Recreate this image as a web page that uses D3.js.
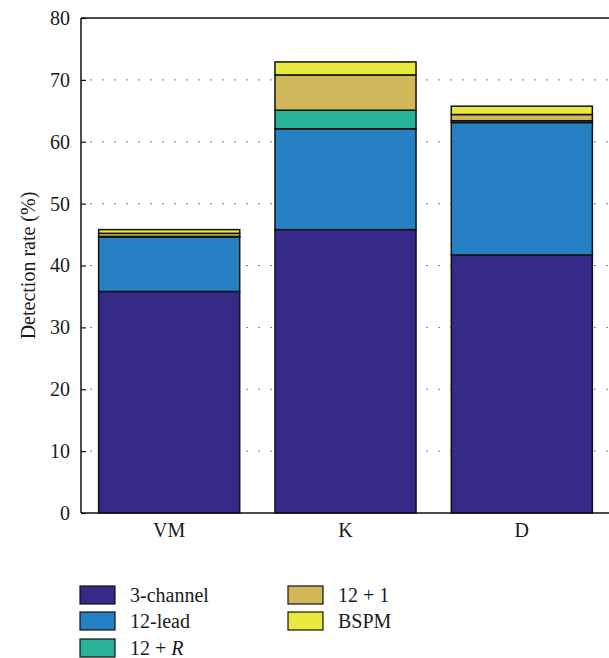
<!DOCTYPE html>
<html>
<head>
<meta charset="utf-8">
<script src="https://cdn.jsdelivr.net/npm/d3@7"></script>
<style>
  html, body { margin: 0; padding: 0; background: #fff; }
  svg { display: block; }
  text { font-family: "Liberation Serif", "DejaVu Serif", serif; fill: #1a1a1a; }
</style>
</head>
<body>
<svg id="chart" width="609" height="658"></svg>
<script>
// Detection method groups along the x axis
const categories = ["VM", "K", "D"];

// Stacked series (layer heights, % detection rate)
const seriesNames = ["3-channel", "12-lead", "12 + R", "12 + 1", "BSPM"];
const threeChannel = [35.8, 45.8, 41.7];
const twelveLead   = [8.8, 16.3, 21.4];
const twelvePlusR  = [0.1, 3.0, 0.3];
const twelvePlus1  = [0.5, 5.7, 1.0];
const bspm         = [0.6, 2.1, 1.35];

const yTicks = [0, 10, 20, 30, 40, 50, 60, 70, 80];
const colors = ["#352a87", "#2680c4", "#27b29a", "#d3b85b", "#e8e83d"];
const fontSize = 20;

const layerValues = [threeChannel, twelveLead, twelvePlusR, twelvePlus1, bspm];
const rows = categories.map((c, i) => {
  const r = { category: c };
  seriesNames.forEach((s, k) => { r[s] = layerValues[k][i]; });
  return r;
});

const svg = d3.select("#chart");
const margin = { left: 81, top: 18, bottom: 513, right: 610 };

const x = d3.scaleBand()
  .domain(categories)
  .range([margin.left, margin.right])
  .paddingInner(0.2)
  .paddingOuter(0.1);

const y = d3.scaleLinear().domain([0, 80]).range([margin.bottom, margin.top]);

// dotted grid lines
svg.append("g")
  .selectAll("line")
  .data(yTicks.filter(t => t > 0 && t < 80))
  .join("line")
  .attr("x1", margin.left + 9).attr("x2", margin.right)
  .attr("y1", d => y(d)).attr("y2", d => y(d))
  .attr("stroke", "#808080")
  .attr("stroke-width", 1)
  .attr("stroke-dasharray", "2,10");

// stacked bars
const stack = d3.stack().keys(seriesNames)(rows);
svg.append("g")
  .selectAll("g")
  .data(stack)
  .join("g")
  .attr("fill", (d, i) => colors[i])
  .selectAll("rect")
  .data(d => d)
  .join("rect")
  .attr("x", d => x(d.data.category))
  .attr("width", x.bandwidth())
  .attr("y", d => y(d[1]))
  .attr("height", d => y(d[0]) - y(d[1]))
  .attr("stroke", "#111")
  .attr("stroke-width", 1.5);

// frame (left, top, bottom)
const frame = svg.append("g").attr("stroke", "#111").attr("stroke-width", 1.5).attr("fill", "none");
frame.append("line").attr("x1", margin.left).attr("x2", margin.left).attr("y1", margin.top).attr("y2", margin.bottom);
frame.append("line").attr("x1", margin.left).attr("x2", 609).attr("y1", margin.top).attr("y2", margin.top);
frame.append("line").attr("x1", margin.left).attr("x2", 609).attr("y1", margin.bottom).attr("y2", margin.bottom);

// y axis ticks (inward) and labels
const yAxis = d3.axisLeft(y).tickValues(yTicks).tickSize(-5).tickPadding(11).tickFormat(d3.format("d"));
const gy = svg.append("g").attr("transform", `translate(${margin.left},0)`).call(yAxis);
gy.select(".domain").remove();
gy.selectAll(".tick line").attr("stroke", "#111").attr("stroke-width", 1.2);
gy.selectAll(".tick text").attr("font-size", fontSize).attr("fill", "#1a1a1a")
  .attr("font-family", "Liberation Serif, serif");

// x axis labels
const xAxis = d3.axisBottom(x).tickSize(0).tickPadding(10);
const gx = svg.append("g").attr("transform", `translate(0,${margin.bottom})`).call(xAxis);
gx.select(".domain").remove();
gx.selectAll(".tick text").attr("font-size", fontSize).attr("fill", "#1a1a1a")
  .attr("font-family", "Liberation Serif, serif");

// y axis title
svg.append("text")
  .attr("transform", `translate(35,${(margin.top + margin.bottom) / 2}) rotate(-90)`)
  .attr("text-anchor", "middle")
  .attr("font-size", fontSize)
  .text("Detection rate (%)");

// legend
const legendPos = [
  { x: 80, y: 586 }, { x: 80, y: 612 }, { x: 80, y: 639 },
  { x: 288, y: 586 }, { x: 288, y: 612 }
];
const lg = svg.append("g").selectAll("g")
  .data(seriesNames)
  .join("g")
  .attr("transform", (d, i) => `translate(${legendPos[i].x},${legendPos[i].y})`);
lg.append("rect")
  .attr("width", 35).attr("height", 18)
  .attr("fill", (d, i) => colors[i])
  .attr("stroke", "#111").attr("stroke-width", 1.2);
const lt = lg.append("text")
  .attr("x", 50).attr("y", 16)
  .attr("font-size", fontSize);
lt.each(function(d) {
  const t = d3.select(this);
  if (d === "12 + R") {
    t.append("tspan").text("12 + ");
    t.append("tspan").attr("font-style", "italic").text("R");
  } else {
    t.text(d);
  }
});
</script>
</body>
</html>
